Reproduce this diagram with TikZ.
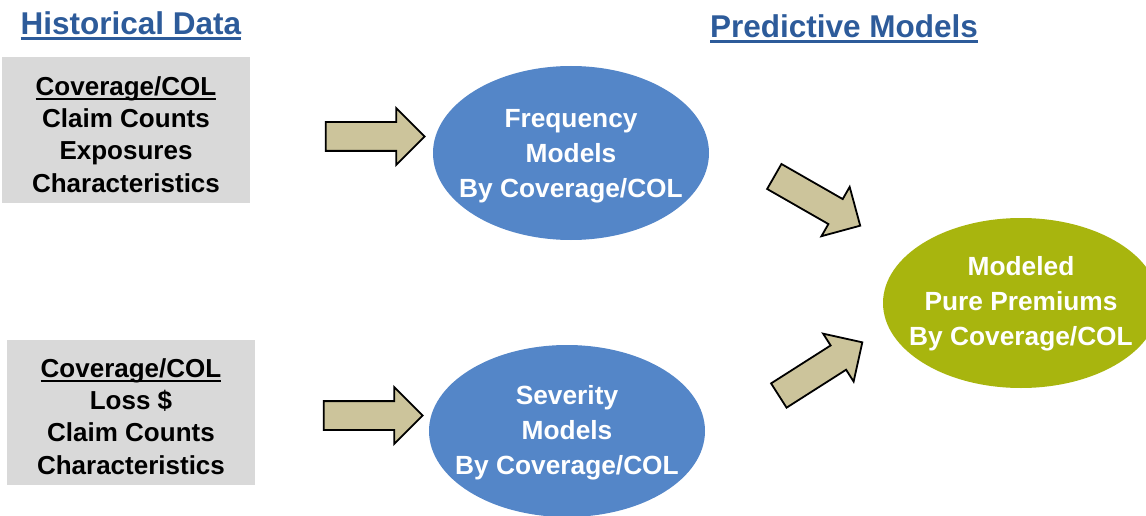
\documentclass[tikz,border=0pt]{standalone}
\usepackage{fontspec}
\setmainfont{Liberation Sans}
\usetikzlibrary{shapes.geometric,shapes.arrows}
\definecolor{titleblue}{HTML}{2D5B9A}
\definecolor{boxgray}{HTML}{D9D9D9}
\definecolor{ellblue}{HTML}{5486C8}
\definecolor{ellgreen}{HTML}{A8B50E}
\definecolor{arrowtan}{HTML}{CCC49B}
\newcommand\myul[3]{\setbox0\hbox{#3}\vtop{\copy0\kern-\dp0\kern#2\hrule height #1}}
\tikzset{
  titletext/.style={text=titleblue, font=\fontsize{31.5}{36}\selectfont\bfseries, inner sep=0pt},
  databox/.style={fill=boxgray, draw=none, minimum width=248pt, inner sep=0pt},
  boxtext/.style={align=center, inner sep=0pt, font=\fontsize{26}{32.3}\selectfont\bfseries},
  modelell/.style={ellipse, fill=ellblue, draw=none, inner sep=0pt, minimum width=276pt},
  resultell/.style={modelell, fill=ellgreen},
  elltext/.style={align=center, text=white, inner sep=0pt, font=\fontsize{26.3}{35}\selectfont\bfseries},
  blockarrow/.style={single arrow, draw=black, line width=1.8pt, fill=arrowtan,
    inner xsep=0pt, inner ysep=13.5pt,
    minimum height=99pt, minimum width=55pt, single arrow head extend=14pt,
    single arrow tip angle=90, single arrow head indent=0pt},
}
\begin{document}
\begin{tikzpicture}[x=1pt,y=-1pt]
\useasboundingbox (0,0) rectangle (1146,516);
% titles
\node[titletext] (t1) at (131,26) {\myul{3pt}{3pt}{Historical Data}};
\node[titletext] (t2) at (844,29) {\myul{3pt}{3pt}{Predictive Models}};
% data boxes
\node[databox, minimum height=146pt] (d1) at (126,130) {};
\node[boxtext] (d1t) at (126,134.5)
  {\myul{2.5pt}{2.5pt}{Coverage/COL}\\Claim Counts\\Exposures\\Characteristics};
\node[databox, minimum height=145pt] (d2) at (131,412.5) {};
\node[boxtext] (d2t) at (131,416.5)
  {\myul{2.5pt}{2.5pt}{Coverage/COL}\\Loss \$\\Claim Counts\\Characteristics};
% models
\node[modelell, minimum height=174pt] (f) at (571,153) {};
\node[elltext] (ft) at (571,156) {Frequency\\Models\\By Coverage/COL};
\node[modelell, minimum height=172pt] (s) at (567,431) {};
\node[elltext] (st) at (567,433) {Severity\\Models\\By Coverage/COL};
\node[resultell, minimum height=170pt] (p) at (1021,303) {};
\node[elltext] (pt) at (1021,304) {Modeled\\Pure Premiums\\By Coverage/COL};
% arrows
\node[blockarrow] (a1) at (368,136.5) {};
\node[blockarrow] (a2) at (366,415.5) {};
\node[blockarrow, rotate=-29.8] (a3) at (811,197.5) {};
\node[blockarrow, rotate=32.5] (a4) at (814.5,372.8) {};
\end{tikzpicture}
\end{document}
